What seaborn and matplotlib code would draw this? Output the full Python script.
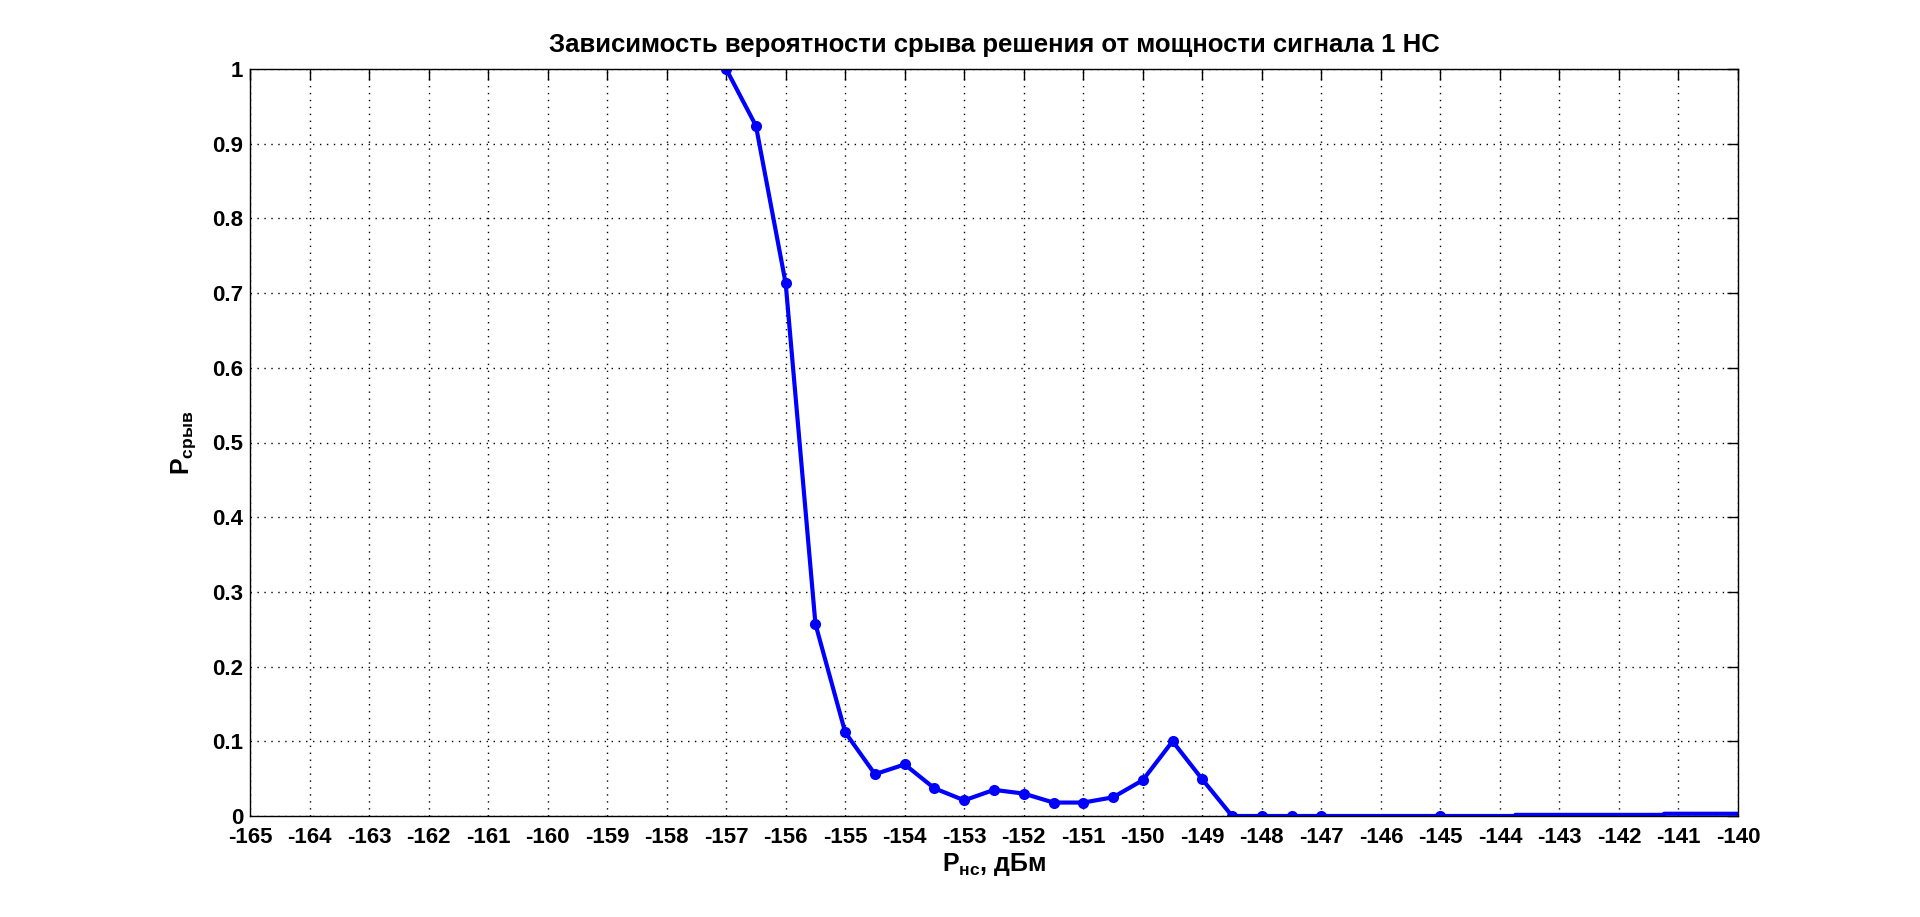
import numpy as np
import pandas as pd
import matplotlib
matplotlib.use("Agg")
import matplotlib.pyplot as plt
import seaborn as sns

# data
p_ns = [-157, -156.5, -156, -155.5, -155, -154.5, -154, -153.5, -153, -152.5,
        -152, -151.5, -151, -150.5, -150, -149.5, -149, -148.5, -148, -147.5,
        -147, -145]
p_sryv = [1.0, 0.924, 0.713, 0.257, 0.112, 0.056, 0.069, 0.037, 0.021, 0.035,
          0.030, 0.018, 0.018, 0.025, 0.048, 0.100, 0.049, 0.0, 0.0, 0.0,
          0.0, 0.0]
tail_x = [-145, -143.75, -143.74, -141.25, -141.24, -140]
tail_y = [0.0, 0.0, 0.0015, 0.0015, 0.003, 0.003]
x_ticks = list(range(-165, -139))
y_ticks = [round(0.1 * i, 1) for i in range(11)]
y_tick_labels = ['0'] + [f'{v:g}' for v in y_ticks[1:-1]] + ['1']
title = 'Зависимость вероятности срыва решения от мощности сигнала 1 НС'

sns.set_style('white')
plt.rcParams['font.family'] = ['Liberation Sans', 'DejaVu Sans']
plt.rcParams['font.weight'] = 'bold'
plt.rcParams['text.color'] = 'black'
plt.rcParams['axes.labelcolor'] = 'black'
plt.rcParams['xtick.color'] = 'black'
plt.rcParams['ytick.color'] = 'black'
plt.rcParams['mathtext.fontset'] = 'custom'
plt.rcParams['mathtext.rm'] = 'Liberation Sans:bold'
plt.rcParams['mathtext.bf'] = 'Liberation Sans:bold'
plt.rcParams['mathtext.it'] = 'Liberation Sans:bold'

fig = plt.figure(figsize=(19.2, 9.17), dpi=100)
ax = fig.add_axes([250/1920, 1 - 816/917, (1738-250)/1920, (816-69)/917])

df = pd.DataFrame({'x': p_ns, 'y': p_sryv})
dft = pd.DataFrame({'x': tail_x, 'y': tail_y})
sns.lineplot(data=dft, x='x', y='y', ax=ax, color=(0, 0, 1), linewidth=3,
             estimator=None, sort=False)
sns.lineplot(data=df, x='x', y='y', ax=ax, color=(0, 0, 1), linewidth=3,
             marker='o', markersize=8, markeredgewidth=0, estimator=None, sort=False)

ax.set_xlim(-165, -140)
ax.set_ylim(0, 1)
ax.set_xticks(x_ticks)
ax.set_xticklabels([str(t) for t in x_ticks])
ax.set_yticks(y_ticks)
ax.set_yticklabels(y_tick_labels)
ax.grid(True, color='black', linestyle=(0, (1, 4)), linewidth=1.0)
ax.tick_params(direction='in', length=8, width=1, top=True, right=True,
               labelsize=16, colors='black', pad=5)
ax.tick_params(axis='x', pad=8)
for lab in ax.get_xticklabels() + ax.get_yticklabels():
    lab.set_fontweight('bold')
    lab.set_color('black')
for s in ax.spines.values():
    s.set_visible(True)
    s.set_color('black')
    s.set_linewidth(1.0)

ax.set_title(title, fontsize=18.5, fontweight='bold', pad=12, color='black')
ax.set_xlabel(r'$\mathrm{P}_{\mathrm{нс}}$, дБм', fontsize=18, fontweight='bold',
              labelpad=2, color='black')
ax.set_ylabel(r'$\mathrm{P}_{\mathrm{срыв}}$', fontsize=18, fontweight='bold',
              labelpad=10, color='black')

fig.savefig('out.png', dpi=100, facecolor='white')
